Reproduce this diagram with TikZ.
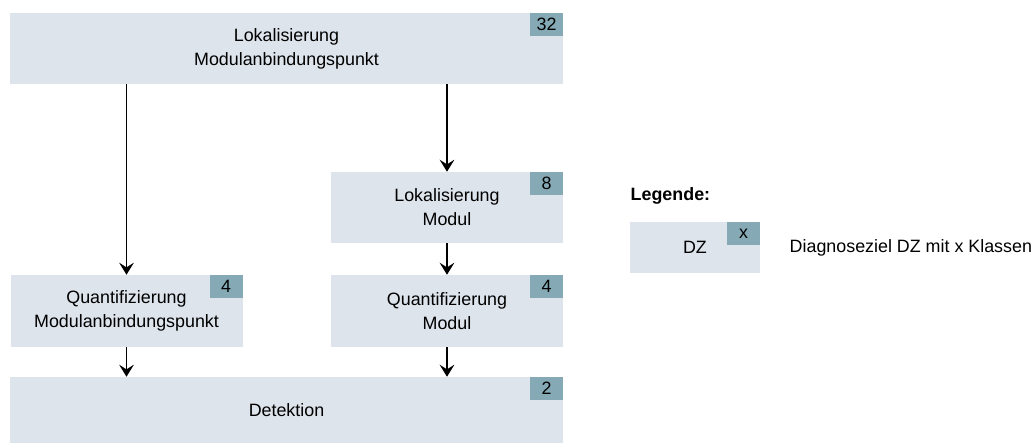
\documentclass[tikz,border=0pt]{standalone}
\usepackage{fontspec}
\setmainfont{Liberation Sans}
\usepackage{xcolor}
\usetikzlibrary{arrows.meta}
\definecolor{targetfill}{RGB}{222,228,236}
\definecolor{badgefill}{RGB}{133,170,182}

\begin{document}
\begin{tikzpicture}[x=0.75pt,y=-0.75pt,
  font=\fontsize{13.4}{18}\selectfont,
  target/.style={fill=targetfill, inner sep=0pt, align=center},
  badge/.style={fill=badgefill, inner sep=0pt, minimum width=24.75pt,
    minimum height=17.25pt, anchor=north east},
  flow/.style={line width=1.3pt, -{Stealth[length=9pt,width=11pt,inset=3.5pt]}}]
  \useasboundingbox (0,0) rectangle (1035,444);
  % diagnosis targets
  \node[target, minimum width=414.75pt, minimum height=53.25pt] (lokmap) at (286.5,48.5)
    {Lokalisierung\\Modulanbindungspunkt};
  \node[target, minimum width=174pt, minimum height=53.25pt] (lokmod) at (447,207.5)
    {Lokalisierung\\Modul};
  \node[target, minimum width=174pt, minimum height=54pt] (quantmap) at (126.5,311)
    {Quantifizierung\\Modulanbindungspunkt};
  \node[target, minimum width=174pt, minimum height=54pt] (quantmod) at (447,311)
    {Quantifizierung\\Modul};
  \node[target, minimum width=414.75pt, minimum height=49.5pt] (detekt) at (286.5,410)
    {Detektion};
  % number of classes
  \node[badge] (nlokmap) at (lokmap.north east) {32};
  \node[badge] (nlokmod) at (lokmod.north east) {8};
  \node[badge] (nquantmap) at (quantmap.north east) {4};
  \node[badge] (nquantmod) at (quantmod.north east) {4};
  \node[badge] (ndetekt) at (detekt.north east) {2};
  % arrows
  \draw[flow] (lokmap.south -| quantmap.north) -- (quantmap.north);
  \draw[flow] (lokmap.south -| lokmod.north) -- (lokmod.north);
  \draw[flow] (lokmod.south) -- (quantmod.north);
  \draw[flow] (quantmap.south) -- (quantmap.south |- detekt.north);
  \draw[flow] (quantmod.south) -- (quantmod.south |- detekt.north);
  % legend
  \node[anchor=west, font=\fontsize{13.4}{18}\selectfont\bfseries] (legtitle) at (626,196) {Legende:};
  \node[target, minimum width=97.5pt, minimum height=38.25pt] (legbox) at (695,247.5) {DZ};
  \node[badge] (nlegbox) at (legbox.north east) {x};
  \node[anchor=west] (legtext) at (785,247.5) {Diagnoseziel DZ mit x Klassen};
\end{tikzpicture}
\end{document}
